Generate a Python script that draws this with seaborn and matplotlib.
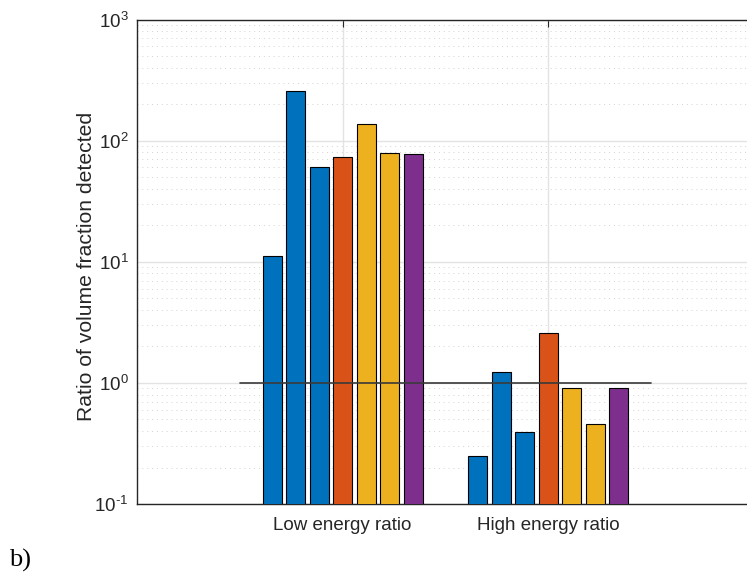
import numpy as np
import pandas as pd
import matplotlib
matplotlib.use("Agg")
import matplotlib.pyplot as plt
from matplotlib.ticker import LogLocator, NullFormatter, FuncFormatter
import seaborn as sns

# ---- data -------------------------------------------------------------
groups = ["Low energy ratio", "High energy ratio"]
series = ["s1", "s2", "s3", "s4", "s5", "s6", "s7"]
low_values = [11.2, 259.0, 60.5, 73.3, 138.0, 79.6, 78.1]
high_values = [0.247, 1.22, 0.394, 2.57, 0.91, 0.456, 0.91]
series_colors = ["#0072BD", "#0072BD", "#0072BD", "#D95319",
                 "#EDB120", "#EDB120", "#7E2F8E"]
reference_level = 1.0

df = pd.DataFrame({
    "group": np.repeat(groups, len(series)),
    "series": series * len(groups),
    "value": low_values + high_values,
})

# ---- style ------------------------------------------------------------
sns.set_style("white")
plt.rcParams["font.family"] = ["Liberation Sans", "DejaVu Sans"]
plt.rcParams["mathtext.fontset"] = "custom"
plt.rcParams["mathtext.rm"] = "Liberation Sans"
plt.rcParams["mathtext.it"] = "Liberation Sans:italic"
dark = "#262626"

fig = plt.figure(figsize=(7.47, 5.84), dpi=100)
ax = fig.add_axes([137 / 747, 80 / 584, 617 / 747, 484.5 / 584])

sns.barplot(data=df, x="group", y="value", hue="series", order=groups,
            hue_order=series, palette=series_colors, saturation=1,
            width=0.8, gap=0.19, edgecolor="black", linewidth=0.8,
            errorbar=None, legend=False, ax=ax, zorder=3)

ax.set_yscale("log")
ax.set_ylim(0.1, 1000)
ax.set_xlim(-1, 2)

# reference line at a ratio of one, spanning both groups
ax.plot([-0.5, 1.5], [reference_level, reference_level],
        color="#3a3a3a", lw=1.2, zorder=4)


def decade_label(v, pos):
    e = int(round(np.log10(v)))
    exp = r"\text{-}%d" % abs(e) if e < 0 else "%d" % e
    return r"$\mathdefault{10^{%s}}$" % exp


# grid
ax.yaxis.set_major_locator(LogLocator(base=10, numticks=10))
ax.yaxis.set_major_formatter(FuncFormatter(decade_label))
ax.yaxis.set_minor_locator(LogLocator(base=10, subs=np.arange(2, 10), numticks=20))
ax.yaxis.set_minor_formatter(NullFormatter())
ax.grid(True, which="major", axis="both", color="#e3e3e3", lw=1.0, zorder=0)
ax.grid(True, which="minor", axis="y", color="#d2d2d2", lw=0.7,
        linestyle=(0, (1, 4)), zorder=0)
ax.set_axisbelow(True)

# axes box and ticks
for side in ["left", "bottom", "top", "right"]:
    ax.spines[side].set_visible(True)
    ax.spines[side].set_color(dark)
    ax.spines[side].set_linewidth(1.0)
ax.tick_params(axis="both", which="both", direction="in", colors=dark,
               top=True, right=True, labelsize=13.5)
ax.tick_params(axis="y", which="major", length=5, width=0.8, pad=6)
ax.tick_params(axis="y", which="minor", length=3, width=0.6)
ax.tick_params(axis="x", which="major", length=5, width=0.8, pad=9)
for lbl in ax.get_xticklabels() + ax.get_yticklabels():
    lbl.set_color(dark)

ax.set_xlabel("")
ax.set_ylabel("Ratio of volume fraction detected", fontsize=15.2, color=dark)
ax.yaxis.set_label_coords((96 - 137) / 617, (504 - 266) / 484.5)

fig.text(9 / 747, 1 - 567 / 584, "b)", fontsize=19,
         family=["Liberation Serif", "DejaVu Serif"], color="black",
         ha="left", va="baseline")

fig.savefig("out.png", dpi=100)
